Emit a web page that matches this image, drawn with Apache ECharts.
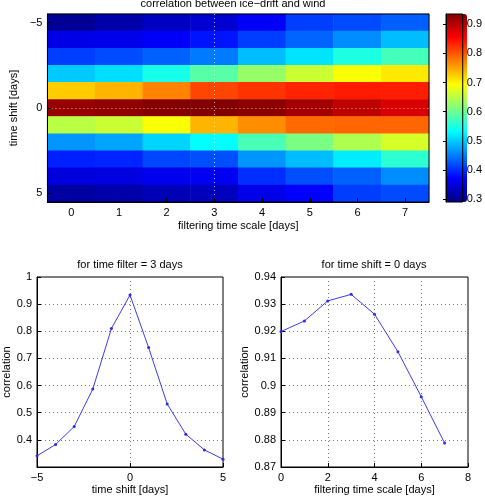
<!DOCTYPE html>
<html>
<head>
<meta charset="utf-8">
<script src="https://cdn.jsdelivr.net/npm/echarts@6/dist/echarts.min.js"></script>
<style>
  html, body { margin: 0; padding: 0; background: #fff; }
  #chart { width: 485px; height: 498px; }
</style>
</head>
<body>
<div id="chart"></div>
<script>
// filtering time scale (columns) and time shift (rows, top = -5)
const filterScales = ["0", "1", "2", "3", "4", "5", "6", "7"];
const timeShifts = ["-5", "-4", "-3", "-2", "-1", "0", "1", "2", "3", "4", "5"];

// correlation, one row per time shift, one value per filtering scale
const corrRows = [
  [0.305, 0.318, 0.332, 0.341, 0.365, 0.410, 0.418, 0.430],
  [0.355, 0.358, 0.366, 0.383, 0.410, 0.435, 0.460, 0.490],
  [0.410, 0.418, 0.432, 0.449, 0.490, 0.515, 0.550, 0.575],
  [0.498, 0.512, 0.545, 0.587, 0.627, 0.660, 0.690, 0.707],
  [0.725, 0.740, 0.772, 0.810, 0.822, 0.832, 0.838, 0.836],
  [0.9199, 0.9238, 0.9312, 0.9336, 0.9263, 0.9125, 0.8959, 0.8788],
  [0.650, 0.660, 0.690, 0.740, 0.765, 0.787, 0.790, 0.790],
  [0.465, 0.475, 0.505, 0.532, 0.578, 0.610, 0.643, 0.668],
  [0.390, 0.393, 0.415, 0.421, 0.465, 0.490, 0.520, 0.560],
  [0.350, 0.352, 0.360, 0.363, 0.400, 0.420, 0.432, 0.460],
  [0.312, 0.318, 0.325, 0.329, 0.357, 0.370, 0.410, 0.418]
];

const shiftDays = [-5, -4, -3, -2, -1, 0, 1, 2, 3, 4, 5];
const filterDays = [0, 1, 2, 3, 4, 5, 6, 7];

// slices through the matrix: filter = 3 days, shift = 0 days
const corrFilter3 = corrRows.map(r => r[3]);
const corrShift0 = corrRows[5];

// colour limits and colorbar tick labels
const colorRange = [0.29, 0.935];
const colorbarTicks = [0.3, 0.4, 0.5, 0.6, 0.7, 0.8, 0.9];

const font = "'Liberation Sans', Arial, sans-serif";
const txt = { fontFamily: font, fontSize: 11, color: "#000" };
const jet = ["#00007f", "#0000ff", "#007fff", "#00ffff", "#7fff7f", "#ffff00", "#ff7f00", "#ff0000", "#7f0000"];
const black = { color: "#000", width: 1 };
const dotted = { show: true, lineStyle: { type: [1, 3], color: "#777", width: 1 } };
const minus = v => String(v).replace("-", "\u2212");

let heatData = [];
corrRows.forEach((row, i) => row.forEach((v, j) => heatData.push([j, i, v])));

let chart = echarts.init(document.getElementById("chart"));

function valueAxis(grid, extra) {
  return Object.assign({
    type: "value",
    gridIndex: grid,
    axisLine: { show: true, onZero: false, lineStyle: black },
    axisTick: { show: true, inside: true, length: 4, lineStyle: black },
    axisLabel: Object.assign({ margin: 5, formatter: minus }, txt),
    splitLine: dotted,
    nameLocation: "middle",
    nameTextStyle: txt
  }, extra);
}

function title(x, y, text) {
  return {
    type: "text", x: x, y: y,
    style: { text: text, textAlign: "center", textVerticalAlign: "middle", font: "11px " + font, fill: "#000" }
  };
}

chart.setOption({
  animation: false,
  graphic: [
    title(233, 4, "correlation between ice\u2212drift and wind"),
    title(130, 265, "for time filter = 3 days"),
    title(374, 265, "for time shift = 0 days")
  ],
  grid: [
    { left: 37, top: 14, width: 392, height: 188, show: true, borderColor: "#000", borderWidth: 1, backgroundColor: "transparent", z: 5 },
    { left: 446, top: 14, width: 21, height: 188, show: true, borderColor: "#000", borderWidth: 1, backgroundColor: "transparent", z: 10 },
    { left: 37, top: 277, width: 186, height: 190, show: true, borderColor: "#000", borderWidth: 1 },
    { left: 281, top: 277, width: 187, height: 190, show: true, borderColor: "#000", borderWidth: 1 }
  ],
  xAxis: [
    {
      type: "category", gridIndex: 0, data: filterScales,
      axisLine: { show: true, lineStyle: black },
      axisTick: { show: true, inside: true, alignWithLabel: true, length: 4, lineStyle: black },
      axisLabel: Object.assign({ margin: 5 }, txt),
      splitLine: { show: false },
      name: "filtering time scale [days]", nameLocation: "middle", nameGap: 18, nameTextStyle: txt,
      z: 10
    },
    { type: "value", gridIndex: 1, show: false, min: 0, max: 1 },
    valueAxis(2, { min: -5, max: 5, interval: 5, name: "time shift [days]", nameGap: 17 }),
    valueAxis(3, { min: 0, max: 8, interval: 2, name: "filtering time scale [days]", nameGap: 17 })
  ],
  yAxis: [
    {
      type: "category", gridIndex: 0, data: timeShifts, inverse: true,
      axisLine: { show: true, lineStyle: black },
      axisTick: { show: true, inside: true, alignWithLabel: true, interval: 4, length: 4, lineStyle: black },
      axisLabel: Object.assign({ margin: 5, interval: 4, formatter: minus }, txt),
      splitLine: { show: false },
      name: "time shift [days]", nameLocation: "middle", nameGap: 22, nameTextStyle: txt,
      z: 10
    },
    {
      type: "value", gridIndex: 1, position: "right", min: colorRange[0], max: colorRange[1],
      axisLine: { show: true, lineStyle: black },
      axisTick: { show: true, inside: true, length: 3, lineStyle: black, customValues: colorbarTicks },
      axisLabel: Object.assign({ margin: 4, customValues: colorbarTicks }, txt),
      splitLine: { show: false },
      z: 10
    },
    valueAxis(2, { min: 0.3, max: 1, interval: 0.1, name: "correlation", nameGap: 22, axisLabel: Object.assign({ margin: 5, showMinLabel: false }, txt) }),
    valueAxis(3, { min: 0.87, max: 0.94, interval: 0.01, name: "correlation", nameGap: 27 })
  ],
  visualMap: {
    type: "continuous",
    seriesIndex: 0,
    min: colorRange[0],
    max: colorRange[1],
    calculable: false,
    hoverLink: false,
    orient: "vertical",
    left: 446,
    top: 14,
    itemWidth: 21,
    itemHeight: 188,
    padding: 0,
    inRange: { color: jet }
  },
  series: [
    {
      type: "heatmap",
      xAxisIndex: 0,
      yAxisIndex: 0,
      data: heatData,
      emphasis: { disabled: true },
      markLine: {
        silent: true,
        symbol: ["none", "none"],
        label: { show: false },
        lineStyle: { type: [1, 3], color: "rgba(255,255,255,0.7)", width: 1 },
        data: [{ xAxis: "3" }, { yAxis: "0" }]
      }
    },
    {
      type: "line",
      xAxisIndex: 2,
      yAxisIndex: 2,
      data: shiftDays.map((d, i) => [d, corrFilter3[i]]),
      symbol: "circle",
      symbolSize: 3,
      itemStyle: { color: "#2a2aee" },
      lineStyle: { color: "#3b3bf0", width: 1 }
    },
    {
      type: "line",
      xAxisIndex: 3,
      yAxisIndex: 3,
      data: filterDays.map((d, i) => [d, corrShift0[i]]),
      symbol: "circle",
      symbolSize: 3,
      itemStyle: { color: "#2a2aee" },
      lineStyle: { color: "#3b3bf0", width: 1 }
    }
  ]
});
</script>
</body>
</html>
